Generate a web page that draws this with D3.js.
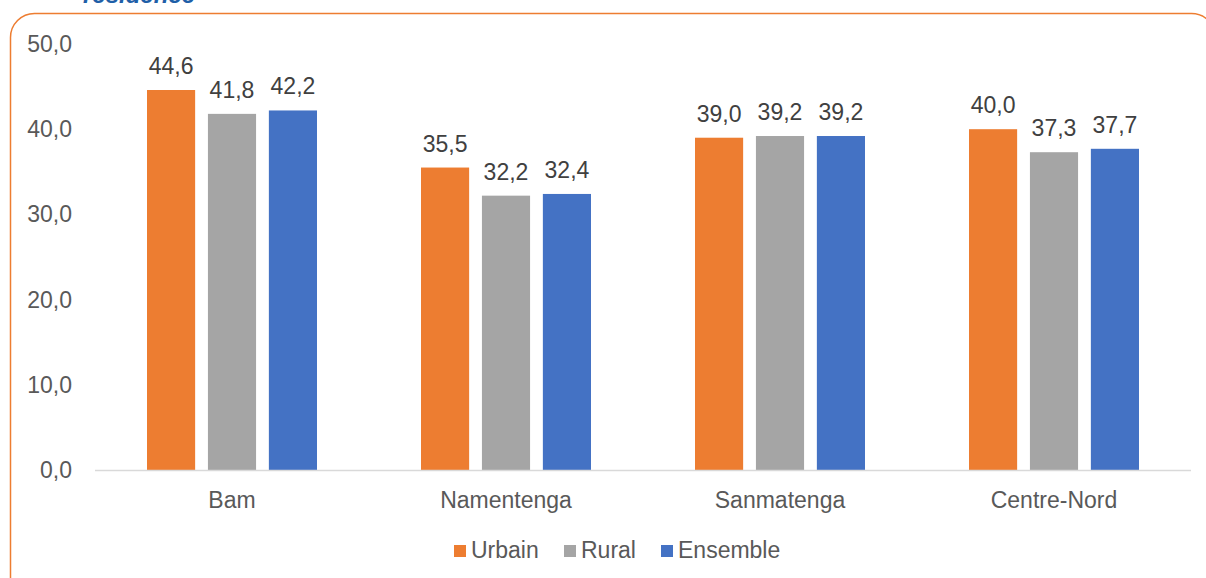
<!DOCTYPE html>
<html><head><meta charset="utf-8">
<script src="https://cdn.jsdelivr.net/npm/d3@7"></script>
<style>body{margin:0;background:#fff}svg{display:block;font-family:"Liberation Sans",Arial,sans-serif}</style>
</head><body><svg id="c" width="1206" height="578"></svg>
<script>
const categories = ["Bam","Namentenga","Sanmatenga","Centre-Nord"];
const seriesNames = ["Urbain","Rural","Ensemble"];
const urbain = [44.6,35.5,39.0,40.0];
const rural = [41.8,32.2,39.2,37.3];
const ensemble = [42.2,32.4,39.2,37.7];
const yTicks = [0,10,20,30,40,50];
const colors = ["#ED7D31","#A5A5A5","#4472C4"];
const values = [urbain, rural, ensemble];

const svg = d3.select("#c");
const fmt = v => d3.format(".1f")(v).replace(".", ",");
const FS = 23;

// title fragment (cut off at top, as in the reference)
svg.append("text").attr("x",83).attr("y",3).attr("font-size",24).attr("font-weight","bold")
  .attr("font-style","italic").attr("fill","#1F5FA8").text("résidence");

// border
svg.append("rect").attr("x",10.5).attr("y",13.5).attr("width",1205).attr("height",590)
  .attr("rx",24).attr("fill","none").attr("stroke","#ED7D31").attr("stroke-width",1.5);

const x = d3.scaleBand().domain(categories).range([95,1191]);
const y = d3.scaleLinear().domain([0,50]).range([470,44]);
const xs = d3.scaleBand().domain(seriesNames).range([0,170]).paddingInner(0.21);
const off = (x.bandwidth()-170)/2;

// y tick labels
svg.append("g").selectAll("text").data(yTicks).join("text")
  .attr("x",72).attr("y",d=>y(d)).attr("dy","0.35em").attr("text-anchor","end")
  .attr("font-size",FS).attr("fill","#595959").text(fmt);

// bars
seriesNames.forEach((s,i)=>{
  const g = svg.append("g");
  g.selectAll("rect").data(categories).join("rect")
    .attr("x",c=>x(c)+off+xs(s)).attr("width",xs.bandwidth())
    .attr("y",(c,j)=>y(values[i][j])).attr("height",(c,j)=>y(0)-y(values[i][j]))
    .attr("fill",colors[i]);
  g.selectAll("text").data(categories).join("text")
    .attr("x",c=>x(c)+off+xs(s)+xs.bandwidth()/2).attr("y",(c,j)=>y(values[i][j])-16)
    .attr("text-anchor","middle").attr("font-size",FS).attr("fill","#404040")
    .text((c,j)=>fmt(values[i][j]));
});

// axis line
svg.append("line").attr("x1",95).attr("x2",1191).attr("y1",470.5).attr("y2",470.5)
  .attr("stroke","#D9D9D9").attr("stroke-width",1.5);

// category labels
svg.append("g").selectAll("text").data(categories).join("text")
  .attr("x",c=>x(c)+x.bandwidth()/2).attr("y",508).attr("text-anchor","middle")
  .attr("font-size",FS).attr("fill","#595959").text(d=>d);

// legend
const legX = [454,564,661];
const lg = svg.append("g");
seriesNames.forEach((s,i)=>{
  lg.append("rect").attr("x",legX[i]).attr("y",545).attr("width",12).attr("height",12).attr("fill",colors[i]);
  lg.append("text").attr("x",legX[i]+17).attr("y",558).attr("font-size",FS).attr("fill","#595959").text(s);
});
</script></body></html>
